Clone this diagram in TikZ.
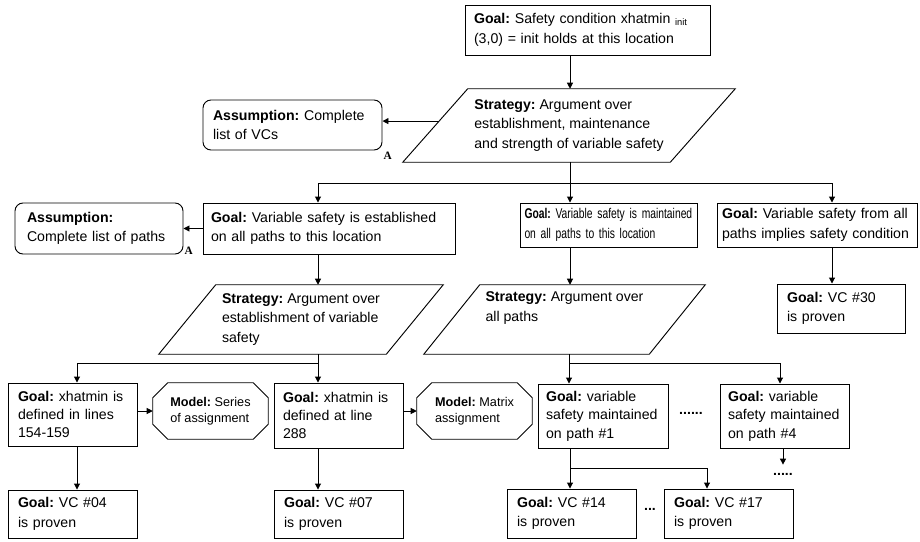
\documentclass[tikz,border=0pt]{standalone}
\usepackage{fontspec}
\setmainfont{Liberation Sans}
\newfontfamily\serifA{Liberation Serif}
\newfontfamily\narrowsans[FakeStretch=0.73]{Liberation Sans}
\usetikzlibrary{arrows.meta,calc}
\newcommand\drawpara[2]{\draw[ln] ([xshift=#2]#1.north west) -- (#1.north east) -- ([xshift=-#2]#1.south east) -- (#1.south west) -- cycle;}
\newcommand\drawocto[1]{\draw[ln] ([xshift=11.25pt]#1.north west) -- ([xshift=-11.25pt]#1.north east) -- ([yshift=-11.25pt]#1.north east) -- ([yshift=11.25pt]#1.south east) -- ([xshift=-11.25pt]#1.south east) -- ([xshift=11.25pt]#1.south west) -- ([yshift=11.25pt]#1.south west) -- ([yshift=-11.25pt]#1.north west) -- cycle;}
\begin{document}
\begin{tikzpicture}[x=0.75pt,y=-0.75pt,
  ln/.style={line width=0.7pt},
  gbox/.style={draw, rectangle, ln, inner sep=0pt, align=left, font=\fontsize{10.6pt}{14.5pt}\selectfont\frenchspacing},
  gbox3/.style={gbox, font=\fontsize{10.6pt}{13.8pt}\selectfont\frenchspacing},
  abox/.style={gbox, rounded corners=6pt},
  stxt/.style={inner sep=0pt, align=left, font=\fontsize{10.6pt}{14.8pt}\selectfont\frenchspacing},
  otxt/.style={inner sep=0pt, align=left, font=\fontsize{9.5pt}{12pt}\selectfont\frenchspacing},
  arr/.style={ln, -{Triangle[length=4.5pt,width=4.5pt]}},
  dotsn/.style={inner sep=0pt, font=\bfseries\fontsize{10.6pt}{12pt}\selectfont},
  albl/.style={inner sep=0pt, font=\serifA\bfseries\fontsize{8.5pt}{9pt}\selectfont},
]
\useasboundingbox (0,0) rectangle (920,542);

% top goal
\node[gbox, minimum width=183.75pt, minimum height=37.5pt, text width=170.25pt] (g0) at (587.5,30)
  {\textbf{Goal:} Safety condition xhatmin \raisebox{-1.5pt}{\fontsize{7pt}{8pt}\selectfont init}\\(3,0) = init holds at this location};

% strategy 1
\node[stxt, minimum width=249pt, minimum height=54.75pt] (s1) at (569,125.5)
  {\textbf{Strategy:} Argument over\\establishment, maintenance\\and strength of variable safety};
\drawpara{s1}{48.75pt}

% assumption 1
\node[abox, minimum width=134.25pt, minimum height=37.5pt, text width=119.25pt] (a1) at (292.5,125)
  {\textbf{Assumption:} Complete\\list of VCs};
\node[albl, anchor=base west] (a1l) at ([xshift=0.75pt,yshift=-6.75pt]a1.south east) {A};

% level 2 goals
\node[gbox, minimum width=189pt, minimum height=38.25pt, text width=177pt] (g2l) at (329,228.5)
  {\textbf{Goal:} Variable safety is established\\on all paths to this location};
\node[abox, minimum width=126pt, minimum height=38.25pt, text width=108pt] (a2) at (99,228.5)
  {\textbf{Assumption:}\\Complete list of paths};
\node[albl, anchor=base west] (a2l) at ([xshift=0.75pt]a2.south east) {A};
\node[gbox, font=\narrowsans\fontsize{10.6pt}{14.5pt}\selectfont\frenchspacing, minimum width=132.75pt, minimum height=33pt, text width=126pt] (g2m) at (608.5,225)
  {\textbf{Goal:} Variable safety is maintained\\on all paths to this location};
\node[gbox, minimum width=150pt, minimum height=33pt, text width=142.5pt] (g2r) at (817,225)
  {\textbf{Goal:} Variable safety from all\\paths implies safety condition};

% level 3
\node[stxt, minimum width=213pt, minimum height=51.75pt] (s2) at (301,319.5)
  {\textbf{Strategy:} Argument over\\establishment of variable\\safety};
\drawpara{s2}{42.75pt}
\node[stxt, minimum width=210.75pt, minimum height=51.75pt, text depth=19.4pt] (s3) at (564.5,319.5)
  {\textbf{Strategy:} Argument over\\all paths};
\drawpara{s3}{42pt}
\node[gbox, minimum width=96pt, minimum height=36.75pt, text width=81pt] (vc30) at (841,308.5)
  {\textbf{Goal:} VC \#30\\is proven};

% level 4
\node[gbox3, minimum width=96.75pt, minimum height=47.25pt, text width=81.75pt] (gA) at (72.5,414.5)
  {\textbf{Goal:} xhatmin is\\defined in lines\\154-159};
\node[otxt, minimum width=86.25pt, minimum height=42pt] (m1) at (210.5,411)
  {\textbf{Model:} Series\\of assignment};
\drawocto{m1}
\node[gbox3, minimum width=96.75pt, minimum height=48.75pt, text width=83.25pt] (gB) at (338.5,415.5)
  {\textbf{Goal:} xhatmin is\\defined at line\\288};
\node[otxt, minimum width=86.25pt, minimum height=42pt] (m2) at (474.5,411)
  {\textbf{Model:} Matrix\\assignment};
\drawocto{m2}
\node[gbox3, minimum width=97.5pt, minimum height=48pt, text width=85.5pt] (gC) at (603,416)
  {\textbf{Goal:} variable\\safety maintained\\on path \#1};
\node[gbox3, minimum width=96.75pt, minimum height=48pt, text width=84.75pt] (gD) at (784.5,416)
  {\textbf{Goal:} variable\\safety maintained\\on path \#4};
\node[dotsn, anchor=base] (d1) at (691,414) {......};
\node[dotsn, anchor=base] (d2) at (783,475) {.....};

% level 5
\node[gbox, minimum width=96.75pt, minimum height=36pt, text width=81.75pt] (vc04) at (72.5,514)
  {\textbf{Goal:} VC \#04\\is proven};
\node[gbox, minimum width=96.75pt, minimum height=36pt, text width=81.75pt] (vc07) at (338.5,514)
  {\textbf{Goal:} VC \#07\\is proven};
\node[gbox, minimum width=96.75pt, minimum height=36.75pt, text width=81.75pt] (vc14) at (571.5,513.5)
  {\textbf{Goal:} VC \#14\\is proven};
\node[gbox, minimum width=96.75pt, minimum height=36.75pt, text width=81.75pt] (vc17) at (728.5,513.5)
  {\textbf{Goal:} VC \#17\\is proven};
\node[dotsn, anchor=base] (d3) at (650,510) {...};

% junctions
\coordinate (j0) at (570,183); \coordinate (j0l) at (318,183); \coordinate (j0r) at (832,183);
\coordinate (j2) at (318,363); \coordinate (j2l) at (77,363);
\coordinate (j3) at (569,363); \coordinate (j3r) at (780,363);
\coordinate (j4) at (570,468); \coordinate (j4r) at (707,468);
\coordinate (s1w) at ($([xshift=48.75pt]s1.north west)!0.44!(s1.south west)$);

% connectors
\draw[arr] (g0.south -| j0) -- (s1.north -| j0);
\draw[arr] (s1w) -- (s1w -| a1.east);
\draw[ln] (s1.south -| j0) -- (j0);
\draw[ln] (j0l) -- (j0r);
\draw[arr] (j0l) -- (g2l.north -| j0l);
\draw[arr] (j0) -- (g2m.north -| j0);
\draw[arr] (j0r) -- (g2r.north -| j0r);
\draw[arr] (g2l.west) -- (g2l.west -| a2.east);
\draw[arr] (g2l.south -| j0l) -- (s2.north -| j0l);
\draw[arr] (g2m.south -| j0) -- (s3.north -| j0);
\draw[arr] (g2r.south -| j0r) -- (vc30.north -| j0r);

\draw[ln] (s2.south -| j2) -- (j2) -- (j2l);
\draw[arr] (j2l) -- (gA.north -| j2l);
\draw[arr] (j2) -- (gB.north -| j2);
\draw[ln] (s3.south -| j3) -- (j3) -- (j3r);
\draw[arr] (j3) -- (gC.north -| j3);
\draw[arr] (j3r) -- (gD.north -| j3r);

\draw[arr] (gA.east |- m1.west) -- (m1.west);
\draw[arr] (gB.east |- m2.west) -- (m2.west);
\draw[arr] (gA.south -| j2l) -- (vc04.north -| j2l);
\draw[arr] (gB.south -| j2) -- (vc07.north -| j2);
\draw[ln] (gC.south -| j4) -- (j4) -- (j4r);
\draw[arr] (j4) -- (vc14.north -| j4);
\draw[arr] (j4r) -- (vc17.north -| j4r);
\draw[arr, shorten >=6pt] (gD.south -| d2) -- (d2.north);
\end{tikzpicture}
\end{document}
